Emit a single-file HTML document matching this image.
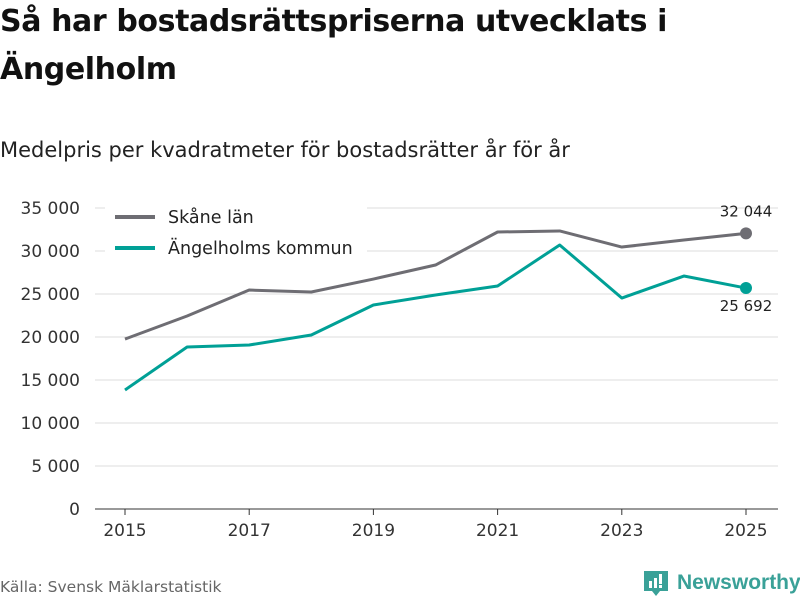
<!DOCTYPE html>
<html><head><meta charset="utf-8"><style>
body{margin:0;width:800px;height:600px;background:#fff;font-family:"DejaVu Sans","Liberation Sans",sans-serif;overflow:hidden;position:relative}
h1{position:absolute;left:0;top:-2px;margin:0;font-size:30px;line-height:48px;font-weight:bold;color:#111;width:790px;letter-spacing:-0.4px}
.sub{position:absolute;left:0;top:138px;font-size:21px;color:#222}
.src{position:absolute;left:0;top:578px;font-size:15.5px;color:#666}
.logo{position:absolute;left:644px;top:569px;display:flex;align-items:center;color:#3aa198;font-family:"Liberation Sans",sans-serif;font-size:21px;font-weight:bold}
</style></head><body>
<h1>Så har bostadsrättspriserna utvecklats i Ängelholm</h1>
<div class="sub">Medelpris per kvadratmeter för bostadsrätter år för år</div>
<svg id="chart" width="800" height="560" style="position:absolute;left:0;top:0"></svg>
<div class="src">Källa: Svensk Mäklarstatistik</div>
<div class="logo"><svg width="24" height="28" viewBox="0 0 24 28"><path d="M0 2h24v20h-8l-4 5-4-5H0z" fill="#3aa198"/><rect x="5" y="12" width="3" height="7" fill="#fff"/><rect x="10" y="9" width="3" height="10" fill="#fff"/><rect x="15" y="5" width="3" height="10" fill="#fff"/><rect x="15" y="16" width="3" height="3" fill="#fff"/></svg><span style="margin-left:9px">Newsworthy</span></div>
<script>
const years=[2015,2016,2017,2018,2019,2020,2021,2022,2023,2024,2025];
const skane=[19760,22440,25460,25230,26740,28370,32210,32330,30460,31280,32044];
const angel=[13840,18840,19070,20230,23720,24880,25930,30700,24530,27090,25692];
const yTicks=[0,5000,10000,15000,20000,25000,30000,35000];
const xTicks=[2015,2017,2019,2021,2023,2025];
const NS="http://www.w3.org/2000/svg";
const svg=document.getElementById('chart');
const x=v=>125+(v-2015)*62.1;
const y=v=>509-v*301/35000;
const fmt=v=>String(Math.round(v)).replace(/\B(?=(\d{3})+$)/g,' ');
function mk(t,a,txt){const e=document.createElementNS(NS,t);for(const k in a)e.setAttribute(k,a[k]);if(txt!=null)e.textContent=txt;svg.appendChild(e);return e;}
yTicks.forEach(v=>{
 const g=mk('line',{x1:95,x2:778,y1:y(v),y2:y(v),stroke:v===0?'#333':'#ddd','stroke-width':1});
 
 
 const t=mk('text',{x:80,y:y(v)+6,'text-anchor':'end','font-size':17,fill:'#333'},fmt(v));
 
 
});
xTicks.forEach(v=>{
 const l=mk('line',{x1:x(v),x2:x(v),y1:509,y2:515,stroke:'#333'});
 
 
 const t=mk('text',{x:x(v),y:536,'text-anchor':'middle','font-size':17,fill:'#333'},v);
 
 
});
function series(d,c,name){
 const p=mk('polyline',{points:d.map((v,i)=>x(years[i])+','+y(v)).join(' '),fill:'none',stroke:c,'stroke-width':3,'stroke-linejoin':'round'});
 
 
 const n=d.length-1;
 const c2=mk('circle',{cx:x(years[n]),cy:y(d[n]),r:6,fill:c});
 
 
}
series(skane,'#6e6d73','skane');
series(angel,'#00a096','angelholm');
const l1=mk('text',{x:x(2025),y:y(skane[10])-17,'text-anchor':'middle','font-size':15,fill:'#222'},fmt(skane[10]));


const l2=mk('text',{x:x(2025),y:y(angel[10])+23,'text-anchor':'middle','font-size':15,fill:'#222'},fmt(angel[10]));


const bg=mk('rect',{x:105,y:204,width:262,height:62,fill:'#fff'});


[['Skåne län','#6e6d73',217],['Ängelholms kommun','#00a096',248]].forEach(([n,c,yy])=>{
 const l=mk('line',{x1:115,x2:155,y1:yy,y2:yy,stroke:c,'stroke-width':4});
 
 
 const t=mk('text',{x:168,y:yy+6,'font-size':17.5,fill:'#222'},n);
 
 
});
</script>
</body></html>
